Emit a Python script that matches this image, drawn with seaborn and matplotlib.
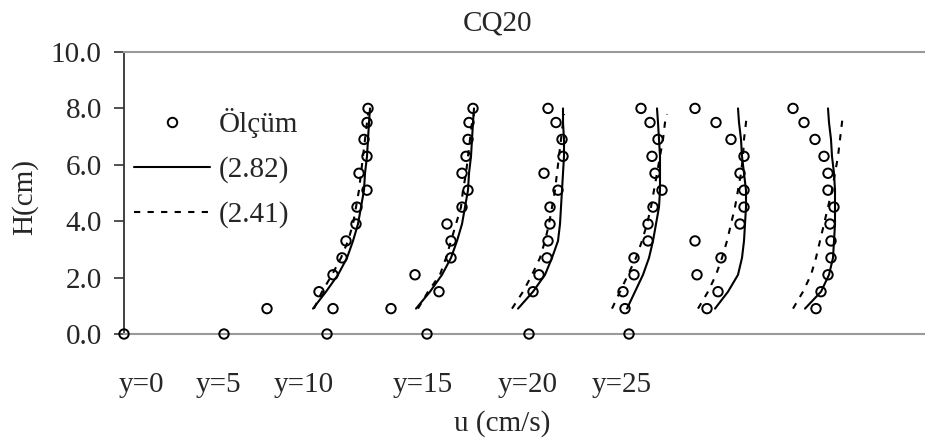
import seaborn as sns
import matplotlib.pyplot as plt
from matplotlib.lines import Line2D
import matplotlib.transforms as mtransforms

# depth levels (cm), bottom to top
H = [0.9, 1.5, 2.1, 2.7, 3.3, 3.9, 4.5, 5.1, 5.7, 6.3, 6.9, 7.5, 8.0]
H_dash = [0.9, 1.5, 2.1, 2.7, 3.3, 3.9, 4.5, 5.1, 5.7, 6.3, 6.9, 7.5, 7.8]

# measured points (Ölçüm), bottom to top
olcum = {
    "p1": [20.9, 19.5, 20.9, 21.8, 22.2, 23.2, 23.3, 24.3, 23.5, 24.3, 24.0, 24.3, 24.4],
    "p2": [26.7, 31.5, 29.1, 32.7, 32.7, 32.3, 33.8, 34.4, 33.8, 34.2, 34.4, 34.5, 34.9],
    "p3": [None, 40.9, 41.5, 42.3, 42.4, 42.6, 42.6, 43.4, 42.0, 43.9, 43.8, 43.2, 42.4],
    "p4": [50.1, 49.9, 51.0, 51.0, 52.4, 52.4, 52.9, 53.8, 53.1, 52.8, 53.4, 52.6, 51.7],
    "p5": [58.3, 59.4, 57.3, 59.7, 57.1, 61.6, 62.0, 62.0, 61.6, 62.0, 60.7, 59.2, 57.1],
    "p6": [69.2, 69.7, 70.4, 70.7, 70.7, 70.6, 71.0, 70.4, 70.4, 70.0, 69.1, 68.0, 66.9],
}
bed_u = [0.0, 10.0, 20.3, 30.3, 40.5, 50.5]
bed_h = [0, 0, 0, 0, 0, 0]
extra_u = [14.3]
extra_h = [0.9]

# model (2.82)
solid = [
    [18.9, 20.2, 21.4, 22.3, 22.9, 23.4, 23.7, 24.0, 24.1, 24.3, 24.4, 24.5, 24.6],
    [29.2, 30.6, 31.8, 32.7, 33.3, 33.8, 34.1, 34.4, 34.5, 34.7, 34.8, 34.9, 35.0],
    [39.4, 40.9, 42.1, 42.8, 43.4, 43.6, 43.7, 43.8, 43.9, 44.0, 44.0, 43.9, 43.9],
    [50.3, 51.1, 51.9, 52.5, 52.9, 53.2, 53.5, 53.6, 53.6, 53.6, 53.5, 53.4, 53.3],
    [59.1, 60.4, 61.4, 61.8, 62.0, 62.1, 62.2, 62.2, 62.0, 61.8, 61.7, 61.5, 61.4],
    [68.1, 69.7, 70.5, 70.9, 71.0, 71.1, 71.1, 71.1, 71.0, 70.8, 70.7, 70.5, 70.4],
]
# model (2.41)
dashed = [
    [19.0, 19.8, 20.8, 21.7, 22.4, 22.9, 23.2, 23.5, 23.7, 23.9, 24.1, 24.3, 24.4],
    [29.4, 30.4, 31.6, 32.2, 32.7, 33.2, 33.7, 33.9, 34.2, 34.4, 34.6, 34.8, 35.0],
    [38.8, 39.9, 40.8, 41.6, 42.1, 42.5, 42.8, 43.1, 43.3, 43.5, 43.7, 43.9, 44.0],
    [48.8, 49.6, 50.4, 51.2, 51.8, 52.3, 52.7, 53.0, 53.3, 53.6, 53.9, 54.1, 54.3],
    [57.4, 58.4, 59.2, 59.8, 60.3, 60.7, 61.1, 61.4, 61.7, 61.9, 62.0, 62.2, 62.3],
    [66.9, 67.9, 68.7, 69.2, 69.6, 70.0, 70.4, 70.8, 71.1, 71.4, 71.6, 71.8, 71.9],
]

station_labels = ["y=0", "y=5", "y=10", "y=15", "y=20", "y=25"]
station_pos = [1.7, 9.4, 18.0, 29.9, 40.4, 49.8]

sns.set_theme(style="white")
plt.rcParams["font.family"] = ["Liberation Serif", "DejaVu Serif"]
FS = 21

fig = plt.figure(figsize=(9.25, 4.42), dpi=100)
ax = fig.add_axes([124 / 925, 108 / 442, 801 / 925, 282 / 442])

dash_style = (0, (3, 3.5))
for xs in solid:
    sns.lineplot(x=xs, y=H, sort=False, estimator=None, color="black", lw=1.5, ax=ax)
for xs in dashed:
    sns.lineplot(x=xs, y=H_dash, sort=False, estimator=None, color="black", lw=1.5,
                 linestyle=dash_style, ax=ax)

pts_u, pts_h = [], []
for k, xs in olcum.items():
    for u, h in zip(xs, H):
        if u is not None:
            pts_u.append(u)
            pts_h.append(h)
pts_u += bed_u + extra_u
pts_h += bed_h + extra_h
sns.scatterplot(x=pts_u, y=pts_h, marker="o", s=46, facecolor="none",
                edgecolor="black", linewidth=1.4, clip_on=False, zorder=5, ax=ax)

ax.set_xlim(0, 80.1)
ax.set_ylim(0, 10)
ax.set_yticks([0, 2, 4, 6, 8, 10])
ax.set_yticklabels(["0.0", "2.0", "4.0", "6.0", "8.0", "10.0"])
ax.set_xticks([])
ax.tick_params(axis="y", direction="out", length=7, width=1.2, color="#333333",
               pad=9, labelsize=FS, left=True)
for side in ["top", "bottom"]:
    ax.spines[side].set_color("#999999")
    ax.spines[side].set_linewidth(1.5)
ax.spines["left"].set_color("#333333")
ax.spines["left"].set_linewidth(1.3)
ax.spines["right"].set_visible(False)

ax.set_ylabel("H(cm)", fontsize=FS)
ax.yaxis.set_label_coords(-0.124, 0.486)
ax.set_xlabel("u (cm/s)", fontsize=FS)
ax.xaxis.set_label_coords(0.472, -0.317)
ax.xaxis.label.set_va("center")
ax.yaxis.label.set_va("center")
ax.text(0.466, 1.102, "CQ20", transform=ax.transAxes, ha="center", va="center",
        fontsize=FS)

trans = mtransforms.blended_transform_factory(ax.transData, ax.transAxes)
for lab, xp in zip(station_labels, station_pos):
    ax.text(xp, -0.182, lab, transform=trans, ha="center", va="center", fontsize=FS)

handles = [
    Line2D([], [], marker="o", ls="none", mfc="none", mec="black", ms=6.8, mew=1.4),
    Line2D([], [], color="black", lw=1.5),
    Line2D([], [], color="black", lw=1.5, ls=dash_style),
]
ax.legend(handles, ["Ölçüm", "(2.82)", "(2.41)"], loc="upper left",
          bbox_to_anchor=(0.0125, 0.80), frameon=False, fontsize=FS,
          handlelength=2.6, handletextpad=0.3, labelspacing=0.62,
          borderpad=0, borderaxespad=0)

fig.savefig("out.png", dpi=100)
